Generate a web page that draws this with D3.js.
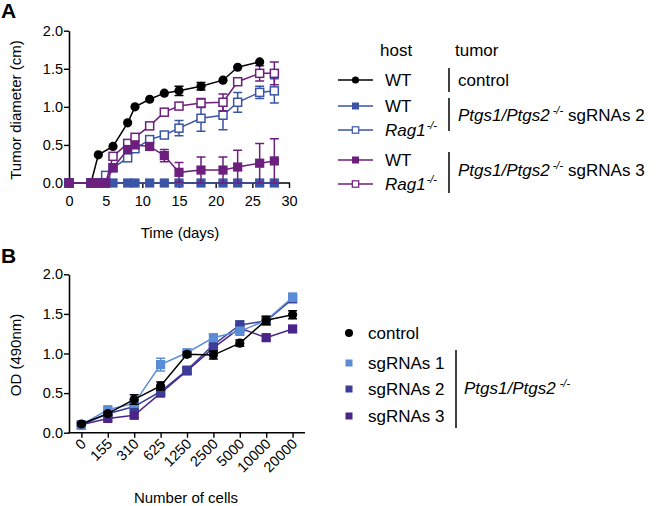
<!DOCTYPE html>
<html><head><meta charset="utf-8">
<script src="https://cdn.jsdelivr.net/npm/d3@7"></script>
<style>body{margin:0;background:#fff}svg{display:block}text{font-family:"Liberation Sans",Arial,Helvetica,sans-serif;fill:#000}</style>
</head><body><div id="c"></div>
<script>
// ---------- Panel A data ----------
const daysControl = [0,3,4,6,8,9,11,13,15,18,21,23,26];
const wtControl   = [0,0,0.37,0.48,0.79,1.0,1.10,1.18,1.21,1.27,1.35,1.52,1.59];
const wtControlErr= [0,0,0,0,0,0,0,0,0.06,0.05,0,0,0];

const daysSg = [0,3,4,5,6,8,9,11,13,15,18,21,23,26,28];
const wtSg2    = [0,0,0,0,0,0,0,0,0,0,0,0,0,0,0];
const wtSg2Err = [0,0,0,0,0,0,0,0,0,0,0,0,0,0,0];
const ragSg2   = [0,0,0,0.1,0.2,0.33,0.45,0.57,0.63,0.72,0.85,0.89,1.06,1.19,1.21];
const ragSg2Err= [0,0,0,0,0,0,0,0,0,0.1,0.17,0.19,0.13,0.08,0.16];
const wtSg3    = [0,0,0,0,0.2,0.44,0.5,0.48,0.36,0.14,0.17,0.17,0.21,0.26,0.29];
const wtSg3Err = [0,0,0,0,0,0,0,0,0.08,0.13,0.17,0.17,0.22,0.26,0.29];
const ragSg3   = [0,0,0,0,0.35,0.52,0.6,0.75,0.93,1.01,1.05,1.06,1.33,1.44,1.44];
const ragSg3Err= [0,0,0,0,0,0,0,0,0,0,0.06,0.11,0.04,0.1,0.15];

const xTicksA = [0,5,10,15,20,25,30];
const yTicks  = [0,0.5,1.0,1.5,2.0];

// ---------- Panel B data ----------
const cells = ["0","155","310","625","1250","2500","5000","10000","20000"];
const odControl = [0.11,0.24,0.42,0.59,0.99,0.98,1.13,1.42,1.49];
const odControlErr = [0.02,0.02,0.06,0.05,0.03,0.05,0.04,0.05,0.05];
const odSg1 = [0.1,0.29,0.37,0.86,1.01,1.2,1.28,1.42,1.71];
const odSg1Err = [0.02,0.03,0.03,0.08,0.03,0.03,0.05,0.04,0.05];
const odSg2 = [0.1,0.24,0.33,0.52,0.79,1.11,1.36,1.41,1.69];
const odSg2Err = [0.02,0.02,0.04,0.03,0.04,0.06,0.05,0.05,0.04];
const odSg3 = [0.1,0.18,0.22,0.5,0.78,1.07,1.32,1.2,1.31];
const odSg3Err = [0.02,0.02,0.03,0.03,0.04,0.04,0.04,0.03,0.03];

const BLUE="#3a54a6", PURPLE="#6c1f7c";
const LB="#5b8dd6", DB="#3a3e96", DP="#4a2489";
const LF=17, TF=15;

const W=660,H=506;
const svg=d3.select("#c").append("svg").attr("width",W).attr("height",H);

// Panel labels
svg.append("text").attr("x",1).attr("y",18).attr("font-size",21).attr("font-weight","bold").text("A");
svg.append("text").attr("x",1).attr("y",263).attr("font-size",21).attr("font-weight","bold").text("B");

// ---------- Panel A ----------
const xA=d3.scaleLinear().domain([0,30]).range([69,289]);
const yA=d3.scaleLinear().domain([0,2]).range([183,30.7]);
const gA=svg.append("g");

gA.append("g").attr("transform","translate(0,183)")
  .call(d3.axisBottom(xA).tickValues(xTicksA).tickFormat(d3.format("d")).tickSize(5).tickSizeOuter(0))
  .call(g=>{g.select(".domain").attr("stroke-width",1.6).attr("d","M68.2,0H290");g.selectAll(".tick line").attr("stroke-width",1.4);g.selectAll("text").attr("font-size",14.5).attr("dy","1.05em");});
gA.append("g").attr("transform","translate(69,0)")
  .call(d3.axisLeft(yA).tickValues(yTicks).tickFormat(d3.format(".1f")).tickSize(5).tickSizeOuter(0))
  .call(g=>{g.select(".domain").attr("stroke-width",1.6);g.selectAll(".tick line").attr("stroke-width",1.4);g.selectAll("text").attr("font-size",14.5).attr("x",-6);});
gA.append("text").attr("x",180).attr("y",238).attr("text-anchor","middle").attr("font-size",TF).text("Time (days)");
gA.append("text").attr("transform","translate(21,110) rotate(-90)").attr("text-anchor","middle").attr("font-size",TF).text("Tumor diameter (cm)");

function seriesA(days,vals,errs,color,shape,filled){
  const g=gA.append("g");
  const pts=days.map((d,i)=>({x:d,y:vals[i],e:errs[i]}));
  g.append("path").attr("d",d3.line().x(p=>xA(p.x)).y(p=>yA(p.y))(pts)).attr("fill","none").attr("stroke",color).attr("stroke-width",1.5);
  pts.filter(p=>p.e>0).forEach(p=>{
    const cx=xA(p.x),y1=yA(p.y+p.e),y0=yA(Math.max(0,p.y-p.e));
    g.append("path").attr("d",`M${cx},${y0}V${y1}M${cx-4.5},${y1}H${cx+4.5}M${cx-4.5},${y0}H${cx+4.5}`).attr("stroke",color).attr("stroke-width",1.5).attr("fill","none");
  });
  pts.forEach(p=>{
    const cx=xA(p.x),cy=yA(p.y);
    if(shape==="circle") g.append("circle").attr("cx",cx).attr("cy",cy).attr("r",4.6).attr("fill",color);
    else if(filled) g.append("rect").attr("x",cx-4.6).attr("y",cy-4.6).attr("width",9.2).attr("height",9.2).attr("fill",color);
    else g.append("rect").attr("x",cx-4).attr("y",cy-4).attr("width",8).attr("height",8).attr("fill","#fff").attr("stroke",color).attr("stroke-width",1.5);
  });
}
seriesA(daysSg,ragSg2,ragSg2Err,BLUE,"square",false);
seriesA(daysSg,ragSg3,ragSg3Err,PURPLE,"square",false);
seriesA(daysControl,wtControl,wtControlErr,"#000","circle",true);
seriesA(daysSg,wtSg2,wtSg2Err,BLUE,"square",true);
seriesA(daysSg,wtSg3,wtSg3Err,PURPLE,"square",true);

// Legend A
const lg=svg.append("g");
lg.append("text").attr("x",380).attr("y",56).attr("font-size",LF).text("host");
lg.append("text").attr("x",455).attr("y",56).attr("font-size",LF).text("tumor");
const legRows=[
  {y:80,c:"#000",s:"circle",f:true,host:"WT"},
  {y:106,c:BLUE,s:"square",f:true,host:"WT"},
  {y:130,c:BLUE,s:"square",f:false,host:"Rag1"},
  {y:160,c:PURPLE,s:"square",f:true,host:"WT"},
  {y:184,c:PURPLE,s:"square",f:false,host:"Rag1"}];
legRows.forEach(r=>{
  lg.append("line").attr("x1",338).attr("x2",373).attr("y1",r.y).attr("y2",r.y).attr("stroke",r.c).attr("stroke-width",1.4);
  if(r.s==="circle") lg.append("circle").attr("cx",355.5).attr("cy",r.y).attr("r",3.6).attr("fill",r.c);
  else if(r.f) lg.append("rect").attr("x",352).attr("y",r.y-3.5).attr("width",7).attr("height",7).attr("fill",r.c);
  else lg.append("rect").attr("x",352.3).attr("y",r.y-3.2).attr("width",6.4).attr("height",6.4).attr("fill","#fff").attr("stroke",r.c).attr("stroke-width",1.2);
  const t=lg.append("text").attr("x",385).attr("y",r.y+6).attr("font-size",LF);
  if(r.host==="WT") t.text("WT");
  else { t.append("tspan").attr("font-style","italic").text("Rag1"); t.append("tspan").attr("font-size",11).attr("font-style","italic").attr("dy",-7).attr("dx",1).text("-/-"); }
});
[[68,92],[98,131],[152,193]].forEach(b=>lg.append("line").attr("x1",449).attr("x2",449).attr("y1",b[0]).attr("y2",b[1]).attr("stroke","#000").attr("stroke-width",1.5));
lg.append("text").attr("x",458).attr("y",86).attr("font-size",LF).text("control");
[[121,"2"],[176,"3"]].forEach(([y,n])=>{
  const t=lg.append("text").attr("x",458).attr("y",y).attr("font-size",LF);
  t.append("tspan").attr("font-style","italic").text("Ptgs1/Ptgs2");
  t.append("tspan").attr("font-size",11).attr("font-style","italic").attr("dy",-7).attr("dx",3).text("-/-");
  t.append("tspan").attr("dy",7).attr("dx",5).text("sgRNAs "+n);
});

// ---------- Panel B ----------
const xB=d3.scalePoint().domain(cells).range([69,305]).padding(0.47);
const yB=d3.scaleLinear().domain([0,2]).range([432.7,274.3]);
const gB=svg.append("g");
gB.append("g").attr("transform","translate(0,432.7)")
  .call(d3.axisBottom(xB).tickSize(5).tickSizeOuter(0))
  .call(g=>{g.select(".domain").attr("stroke-width",1.6).attr("d","M68.2,0H305");g.selectAll(".tick line").attr("stroke-width",1.4);
    g.selectAll("text").attr("font-size",14.5).attr("text-anchor","end").attr("dy",0).attr("y",0)
     .attr("transform","translate(5,12) rotate(-45)");});
gB.append("g").attr("transform","translate(69,0)")
  .call(d3.axisLeft(yB).tickValues(yTicks).tickFormat(d3.format(".1f")).tickSize(5).tickSizeOuter(0))
  .call(g=>{g.select(".domain").attr("stroke-width",1.6);g.selectAll(".tick line").attr("stroke-width",1.4);g.selectAll("text").attr("font-size",14.5).attr("x",-6);});
gB.append("text").attr("x",186).attr("y",503).attr("text-anchor","middle").attr("font-size",TF).text("Number of cells");
gB.append("text").attr("transform","translate(21,355) rotate(-90)").attr("text-anchor","middle").attr("font-size",TF).text("OD (490nm)");

function seriesB(vals,errs,color,shape){
  const g=gB.append("g");
  const pts=cells.map((c,i)=>({x:c,y:vals[i],e:errs[i]}));
  g.append("path").attr("d",d3.line().x(p=>xB(p.x)).y(p=>yB(p.y))(pts)).attr("fill","none").attr("stroke",color).attr("stroke-width",1.5);
  pts.forEach(p=>{
    const cx=xB(p.x),y1=yB(p.y+p.e),y0=yB(p.y-p.e);
    g.append("path").attr("d",`M${cx},${y0}V${y1}M${cx-4.5},${y1}H${cx+4.5}M${cx-4.5},${y0}H${cx+4.5}`).attr("stroke",color).attr("stroke-width",1.5).attr("fill","none");
  });
  pts.forEach(p=>{
    const cx=xB(p.x),cy=yB(p.y);
    if(shape==="circle") g.append("circle").attr("cx",cx).attr("cy",cy).attr("r",4.6).attr("fill",color);
    else g.append("rect").attr("x",cx-4.6).attr("y",cy-4.6).attr("width",9.2).attr("height",9.2).attr("fill",color);
  });
}
seriesB(odSg3,odSg3Err,DP,"square");
seriesB(odSg2,odSg2Err,DB,"square");
seriesB(odSg1,odSg1Err,LB,"square");
seriesB(odControl,odControlErr,"#000","circle");

// Legend B
const lb=svg.append("g");
lb.append("circle").attr("cx",349).attr("cy",333).attr("r",4).attr("fill","#000");
lb.append("text").attr("x",368).attr("y",339).attr("font-size",LF).text("control");
[[363,LB,"sgRNAs 1"],[389,DB,"sgRNAs 2"],[416,DP,"sgRNAs 3"]].forEach(([y,c,t])=>{
  lb.append("rect").attr("x",345.5).attr("y",y-3.5).attr("width",7).attr("height",7).attr("fill",c);
  lb.append("text").attr("x",368).attr("y",y+6).attr("font-size",LF).text(t);
});
lb.append("line").attr("x1",456).attr("x2",456).attr("y1",350).attr("y2",428).attr("stroke","#000").attr("stroke-width",1.5);
const tb=lb.append("text").attr("x",464).attr("y",394).attr("font-size",LF);
tb.append("tspan").attr("font-style","italic").text("Ptgs1/Ptgs2");
tb.append("tspan").attr("font-size",11).attr("font-style","italic").attr("dy",-7).attr("dx",4).text("-/-");
</script></body></html>
